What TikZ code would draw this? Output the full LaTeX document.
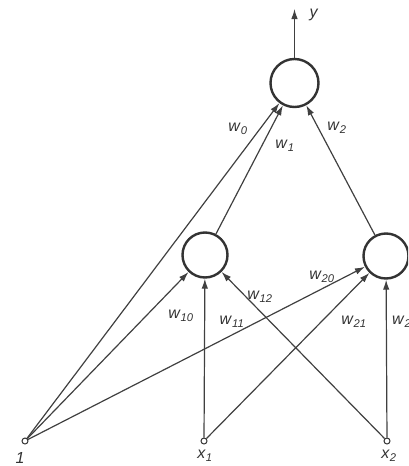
\documentclass[tikz,border=0pt]{standalone}
\usepackage{fontspec}
\setmainfont{Liberation Sans}
\usetikzlibrary{arrows.meta}
\newcommand\wlab[1]{\textit{w}\textsubscript{\textit{#1}}}
\begin{document}
\begin{tikzpicture}[x=1pt,y=-1pt,
  neuron/.style={circle,draw=black!80,line width=2.4pt,inner sep=0pt},
  inp/.style={circle,draw=black!80,line width=1pt,inner sep=0pt,minimum size=6pt},
  conn/.style={draw=black!75,line width=1.2pt,-{Latex[length=10pt,width=6.5pt]}},
  lab/.style={font=\fontsize{16}{18}\selectfont,inner sep=0pt,text=black!80}]
\useasboundingbox (0,0) rectangle (408,466);
\clip (0,0) rectangle (408,466);
\node[neuron,minimum size=48pt] (top) at (294.5,83) {};
\node[neuron,minimum size=45pt] (h1) at (205,255) {};
\node[neuron,minimum size=45pt] (h2) at (386,256) {};
\node[inp] (i0) at (25,441) {};
\node[inp] (i1) at (204,441) {};
\node[inp] (i2) at (387,441) {};
\coordinate (yout) at (294.5,9);
\draw[conn] (top) -- (yout);
\draw[conn] (i0) -- (top);
\draw[conn] (h1) -- (top);
\draw[conn] (h2) -- (top);
\draw[conn] (i0) -- (h1);
\draw[conn] (i0) -- (h2);
\draw[conn] (i1) -- (h1);
\draw[conn] (i1) -- (h2);
\draw[conn] (i2) -- (h1);
\draw[conn] (i2) -- (h2);
\node[lab] (ly) at (314,15) {\textit{y}};
\node[lab] (l0) at (238,129) {\wlab{0}};
\node[lab] (l1) at (285,146) {\wlab{1}};
\node[lab] (l2) at (337,128) {\wlab{2}};
\node[lab] (l10) at (181,316) {\wlab{10}};
\node[lab] (l11) at (232,322) {\wlab{11}};
\node[lab] (l12) at (260,297) {\wlab{12}};
\node[lab] (l20) at (322,277) {\wlab{20}};
\node[lab] (l21) at (354,322) {\wlab{21}};
\node[lab,anchor=west] (l22) at (392,322) {\wlab{22}};
\node[lab] (n1) at (20,458) {\textit{1}};
\node[lab] (nx1) at (205,456) {\textit{x}\textsubscript{\textit{1}}};
\node[lab] (nx2) at (389,456) {\textit{x}\textsubscript{\textit{2}}};
\end{tikzpicture}
\end{document}
